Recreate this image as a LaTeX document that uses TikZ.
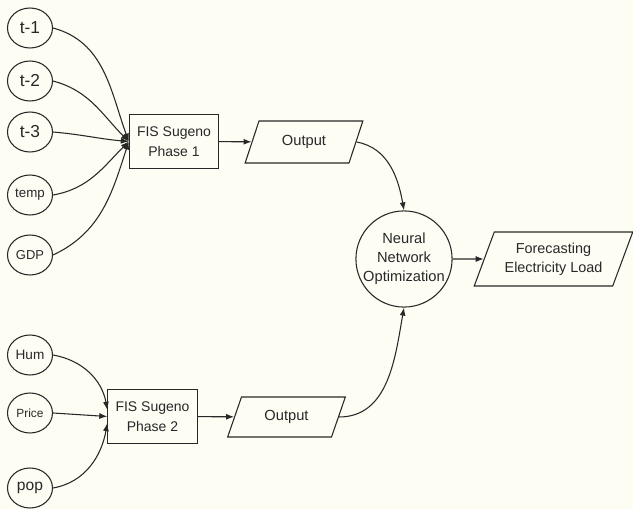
\documentclass[tikz,border=0pt]{standalone}
\usepackage{fontspec}
\setmainfont{Liberation Sans}
\usepackage{xcolor}
\usetikzlibrary{shapes.geometric, arrows.meta}
\definecolor{bgcream}{RGB}{253,253,244}
\definecolor{inkgray}{RGB}{40,40,40}

\begin{document}
\begin{tikzpicture}[x=0.75pt, y=-0.75pt, line width=0.8pt, >={Latex[length=6pt,width=4.5pt]},
  var/.style={ellipse, draw=inkgray, minimum width=33.75pt, minimum height=30pt, inner sep=0pt, text=inkgray},
  fis/.style={rectangle, draw=inkgray, minimum width=67pt, minimum height=40.5pt, inner sep=1pt, align=center, text=inkgray, font=\fontsize{10.5}{15}\selectfont},
  data/.style={trapezium, trapezium left angle=63, trapezium right angle=117, trapezium stretches=true, draw=inkgray, inner sep=0pt, align=center, text=inkgray},
  link/.style={->, draw=inkgray}]
\path[use as bounding box, fill=bgcream] (0,0) rectangle (633,509);

% inputs of phase 1
\node[var, font=\fontsize{13}{13}\selectfont] (tm1) at (30,28) {t-1};
\node[var, font=\fontsize{13}{13}\selectfont] (tm2) at (30,81) {t-2};
\node[var, font=\fontsize{13}{13}\selectfont] (tm3) at (30,132) {t-3};
\node[var, font=\fontsize{10}{10}\selectfont] (temp) at (30,195) {temp};
\node[var, font=\fontsize{9.7}{10}\selectfont] (gdp) at (30,255) {GDP};

% inputs of phase 2
\node[var, font=\fontsize{10.2}{10}\selectfont] (hum) at (30,355) {Hum};
\node[var, font=\fontsize{8.9}{9}\selectfont] (price) at (30,413) {Price};
\node[var, font=\fontsize{11.7}{12}\selectfont] (pop) at (30,488) {pop};

\node[fis] (fis1) at (174,141.5) {FIS Sugeno\\Phase 1};
\node[fis] (fis2) at (152.5,416.5) {FIS Sugeno\\Phase 2};

\node[data, minimum width=88.5pt, minimum height=31.5pt, font=\fontsize{11}{14}\selectfont] (out1) at (304,142) {Output};
\node[data, minimum width=88.5pt, minimum height=30pt, font=\fontsize{11}{14}\selectfont] (out2) at (286.5,417) {Output};

\node[circle, draw=inkgray, minimum size=72pt, inner sep=0pt, align=center, text=inkgray, font=\fontsize{11}{14.25}\selectfont] (nn) at (404,259) {Neural\\Network\\Optimization};
\node[data, minimum width=119pt, minimum height=40.5pt, font=\fontsize{10.8}{14.25}\selectfont] (load) at (553.5,259) {Forecasting\\Electricity Load};

\draw[link] (tm1.east) to[out=-15, in=110] (fis1.west);
\draw[link] (tm2.east) to[out=-15, in=135] (fis1.west);
\draw[link] (tm3.east) to[out=-5, in=175] (fis1.west);
\draw[link] (temp.east) to[out=10, in=-135] (fis1.west);
\draw[link] (gdp.east) to[out=25, in=-108] (fis1.west);

\draw[link] (hum.east) to[out=-10, in=100] ([yshift=5pt]fis2.west);
\draw[link] (price.east) -- (fis2.west);
\draw[link] (pop.east) to[out=10, in=-100] ([yshift=-5pt]fis2.west);

\draw[link] (fis1) -- (out1);
\draw[link] (fis2) -- (out2);
\draw[link] (out1.east) to[out=-10, in=100] (nn.north);
\draw[link] (out2.east) to[out=0, in=-100] (nn.south);
\draw[link] (nn) -- (load);
\end{tikzpicture}
\end{document}
